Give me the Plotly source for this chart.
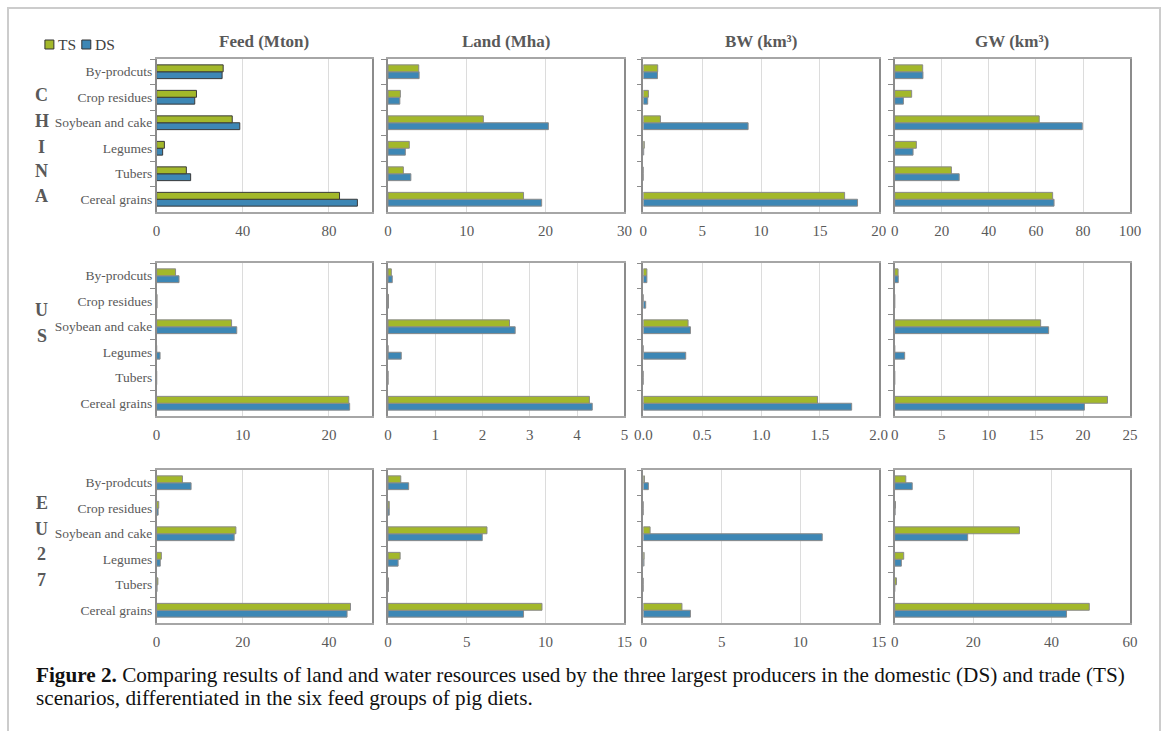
import plotly.graph_objects as go

# Feed groups, bottom to top on each panel
categories = ["Cereal grains", "Tubers", "Legumes", "Soybean and cake", "Crop residues", "By-prodcuts"]

regions = ["CHINA", "US", "EU27"]
metrics = ["Feed (Mton)", "Land (Mha)", "BW (km³)", "GW (km³)"]

# China: trade (TS) and domestic (DS) scenarios, same order as categories
china_feed_ts = [84.9, 13.8, 3.6, 35.1, 18.5, 30.9]
china_feed_ds = [93.2, 15.8, 2.8, 38.6, 17.7, 30.4]
china_land_ts = [17.2, 1.95, 2.7, 12.1, 1.57, 3.9]
china_land_ds = [19.5, 2.9, 2.2, 20.35, 1.5, 3.95]
china_bw_ts = [17.1, 0.0, 0.08, 1.45, 0.43, 1.22]
china_bw_ds = [18.2, 0.0, 0.03, 8.9, 0.37, 1.2]
china_gw_ts = [67.1, 24.1, 9.2, 61.4, 7.2, 11.9]
china_gw_ds = [67.7, 27.4, 7.8, 79.7, 3.7, 12.0]

# US
us_feed_ts = [22.3, 0.0, 0.0, 8.7, 0.05, 2.2]
us_feed_ds = [22.4, 0.0, 0.4, 9.3, 0.05, 2.6]
us_land_ts = [4.26, 0.0, 0.0, 2.57, 0.01, 0.07]
us_land_ds = [4.32, 0.0, 0.28, 2.69, 0.01, 0.09]
us_bw_ts = [1.48, 0.0, 0.0, 0.38, 0.0, 0.03]
us_bw_ds = [1.77, 0.0, 0.36, 0.40, 0.02, 0.03]
us_gw_ts = [22.6, 0.0, 0.0, 15.5, 0.0, 0.36]
us_gw_ds = [20.15, 0.0, 1.06, 16.35, 0.0, 0.38]

# EU27
eu_feed_ts = [45.0, 0.3, 1.1, 18.4, 0.5, 6.0]
eu_feed_ds = [44.2, 0.1, 0.85, 18.0, 0.35, 8.0]
eu_land_ts = [9.77, 0.03, 0.77, 6.28, 0.08, 0.81]
eu_land_ds = [8.6, 0.02, 0.64, 5.98, 0.08, 1.31]
eu_bw_ts = [2.46, 0.0, 0.05, 0.43, 0.0, 0.07]
eu_bw_ds = [3.0, 0.0, 0.04, 11.4, 0.0, 0.32]
eu_gw_ts = [49.6, 0.45, 2.3, 31.8, 0.2, 2.83]
eu_gw_ds = [43.8, 0.0, 1.7, 18.6, 0.1, 4.47]

series = {
    "CHINA": [(china_feed_ts, china_feed_ds), (china_land_ts, china_land_ds),
              (china_bw_ts, china_bw_ds), (china_gw_ts, china_gw_ds)],
    "US": [(us_feed_ts, us_feed_ds), (us_land_ts, us_land_ds),
           (us_bw_ts, us_bw_ds), (us_gw_ts, us_gw_ds)],
    "EU27": [(eu_feed_ts, eu_feed_ds), (eu_land_ts, eu_land_ds),
             (eu_bw_ts, eu_bw_ds), (eu_gw_ts, eu_gw_ds)],
}

# axis ranges and tick steps per panel
x_ranges = {
    "CHINA": [(100, 40), (30, 10), (20, 5), (100, 20)],
    "US": [(25, 10), (5, 1), (2.0, 0.5), (25, 5)],
    "EU27": [(50, 20), (15, 5), (15, 5), (60, 20)],
}

W, H = 1171, 731
# horizontal page span actually occupied by the plotting paper
PAPER_LEFT, PAPER_WIDTH = 9, 1154


def px(x):
    """Horizontal page pixel -> paper fraction."""
    return (x - PAPER_LEFT) / PAPER_WIDTH


def py(y):
    """Vertical page pixel (from top) -> paper fraction."""
    return 1 - y / H


col_px = [(157, 373), (389, 626), (645, 881), (897, 1133)]
row_px = [(59, 212), (263, 416), (470, 623)]

TS_COLOR = "#a3b82a"
DS_COLOR = "#3d87b5"
TEXT_GREY = "#595959"
SERIF = "Liberation Serif"

fig = go.Figure()
layout = {}
annotations = []

n = 0
for r, region in enumerate(regions):
    for c, metric in enumerate(metrics):
        n += 1
        xa = "x" if n == 1 else f"x{n}"
        ya = "y" if n == 1 else f"y{n}"
        ts_vals, ds_vals = series[region][c]
        outline = "#3a3a3a" if (region == "CHINA" and c == 0) else "#8a8a8a"
        # DS first so that TS sits above it within each group
        fig.add_trace(go.Bar(
            y=categories, x=ds_vals, orientation="h", name="DS",
            marker=dict(color=DS_COLOR, line=dict(color=outline, width=1)),
            xaxis=xa, yaxis=ya, showlegend=False,
        ))
        fig.add_trace(go.Bar(
            y=categories, x=ts_vals, orientation="h", name="TS",
            marker=dict(color=TS_COLOR, line=dict(color=outline, width=1)),
            xaxis=xa, yaxis=ya, showlegend=False,
        ))
        x0, x1 = col_px[c]
        y0, y1 = row_px[r]
        xmax, dt = x_ranges[region][c]
        key = "" if n == 1 else str(n)
        layout[f"xaxis{key}"] = dict(
            domain=[px(x0), px(x1)], anchor=ya, range=[0, xmax], dtick=dt,
            tickformat=".1f" if dt == 0.5 else None,
            showgrid=True, gridcolor="#dcdcdc", gridwidth=1, zeroline=False,
            showline=True, linecolor="#a6a6a6", linewidth=1.5, mirror=True,
            ticks="", ticklabelstandoff=4,
            tickfont=dict(family=SERIF, size=15, color=TEXT_GREY),
        )
        layout[f"yaxis{key}"] = dict(
            domain=[py(y1), py(y0)], anchor=xa, type="category",
            categoryorder="array", categoryarray=categories,
            showline=True, linecolor="#8c8c8c", linewidth=1.5, mirror=True,
            ticks="outside", ticklen=5, tickcolor="#8c8c8c", tickson="boundaries",
            showticklabels=(c == 0), showgrid=False, zeroline=False,
            tickfont=dict(family=SERIF, size=13.5, color=TEXT_GREY),
        )

# column headings
for c, metric in enumerate(metrics):
    x0, x1 = col_px[c]
    annotations.append(dict(
        text=f"<b>{metric}</b>", x=px((x0 + x1) / 2), y=py(42),
        xref="paper", yref="paper", showarrow=False, xanchor="center", yanchor="middle",
        font=dict(family=SERIF, size=17, color=TEXT_GREY),
    ))

# region names written vertically beside each row
region_letters = {
    "CHINA": (["C", "H", "I", "N", "A"], [95, 121, 147, 171, 196]),
    "US": (["U", "S"], [310, 336]),
    "EU27": (["E", "U", "2", "7"], [503, 529, 554, 580]),
}
for region in regions:
    letters, ys = region_letters[region]
    for ch, yy in zip(letters, ys):
        annotations.append(dict(
            text=f"<b>{ch}</b>", x=px(42), y=py(yy), xref="paper", yref="paper",
            showarrow=False, xanchor="center", yanchor="middle",
            font=dict(family=SERIF, size=18, color=TEXT_GREY),
        ))

# scenario key: coloured squares with their labels
key_items = [("TS", TS_COLOR, 45, 56), ("DS", DS_COLOR, 82, 93)]
shapes = []
for label, colour, sq_x, txt_x in key_items:
    shapes.append(dict(
        type="rect", xref="paper", yref="paper",
        x0=px(sq_x), x1=px(sq_x + 9), y0=py(49), y1=py(40),
        line=dict(color="#333333", width=1), fillcolor=colour,
    ))
    annotations.append(dict(
        text=label, x=px(txt_x), y=py(44), xref="paper", yref="paper",
        showarrow=False, xanchor="left", yanchor="middle",
        font=dict(family=SERIF, size=15.5, color="#404040"),
    ))

# caption
caption_lines = [
    "<b>Figure 2.</b> Comparing results of land and water resources used by the three largest producers in the domestic (DS) and trade (TS)",
    "scenarios, differentiated in the six feed groups of pig diets.",
]
for i, line in enumerate(caption_lines):
    annotations.append(dict(
        text=line, x=px(34), y=py(675 + 23 * i), xref="paper", yref="paper",
        showarrow=False, xanchor="left", yanchor="middle",
        font=dict(family=SERIF, size=21.2, color="#111111"),
    ))

# outer frame
shapes.append(dict(
    type="rect", xref="paper", yref="paper",
    x0=px(8), x1=px(1163), y0=-0.01, y1=py(8),
    line=dict(color="#cccccc", width=2), fillcolor="rgba(0,0,0,0)", layer="below",
))

fig.update_layout(
    **layout,
    annotations=annotations,
    shapes=shapes,
    width=W, height=H,
    margin=dict(l=0, r=0, t=0, b=0),
    paper_bgcolor="white", plot_bgcolor="white",
    barmode="group", bargap=0.46, bargroupgap=0.0,
    showlegend=False,
)

fig.write_html("out.html")
